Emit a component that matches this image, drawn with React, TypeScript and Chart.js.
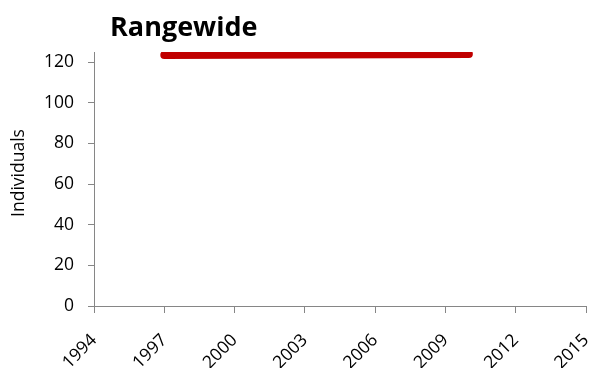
import { useEffect, useRef } from "react";
import { Chart, registerables } from "chart.js";

Chart.register(...registerables);

const chartTitle = "Rangewide";
const yAxisTitle = "Individuals";
const years = [1997, 2010];
const individuals = [123.5, 124];
const xMin = 1994;
const xMax = 2015;
const xStep = 3;
const yMin = 0;
const yMax = 125;
const yTicks = [0, 20, 40, 60, 80, 100, 120];

const FONT = "'Open Sans', 'DejaVu Sans', sans-serif";
const AXIS = "#868686";

const textPlugin = {
  id: "textLabels",
  afterDraw(chart: any) {
    const ctx = chart.ctx;
    ctx.save();
    ctx.font = `bold 27px ${FONT}`;
    ctx.fillStyle = "#000";
    ctx.textAlign = "left";
    ctx.textBaseline = "alphabetic";
    ctx.fillText(chartTitle, 110, 36);
    ctx.restore();

    ctx.save();
    ctx.translate(19, 173);
    ctx.rotate(-Math.PI / 2);
    ctx.font = `17.5px ${FONT}`;
    ctx.fillStyle = "#000";
    ctx.textAlign = "center";
    ctx.textBaseline = "middle";
    ctx.fillText(yAxisTitle, 0, 0);
    ctx.restore();
  },
};

export default function App() {
  const ref = useRef<HTMLCanvasElement | null>(null);
  useEffect(() => {
    if (!ref.current) return;
    const chart = new Chart(ref.current, {
      type: "line",
      data: {
        datasets: [
          {
            data: years.map((y, i) => ({ x: y, y: individuals[i] })),
            borderColor: "#C00000",
            backgroundColor: "#C00000",
            borderWidth: 8,
            borderCapStyle: "round",
            pointRadius: 0,
            tension: 0,
          },
        ],
      },
      options: {
        animation: false,
        responsive: false,
        devicePixelRatio: 1,
        layout: { padding: { top: 52, right: 17, left: 0, bottom: 0 } },
        plugins: { legend: { display: false }, tooltip: { enabled: false }, title: { display: false } },
        scales: {
          x: {
            type: "linear",
            min: xMin,
            max: xMax,
            ticks: {
              stepSize: xStep,
              maxRotation: 45,
              minRotation: 45,
              color: "#000",
              font: { family: FONT, size: 17.5 },
              padding: 17,
              callback: (v: any) => String(v),
            },
            grid: { drawOnChartArea: false, drawTicks: true, tickLength: 7, color: AXIS },
            border: { color: AXIS, width: 1 },
            afterFit: (s: any) => {
              s.height = 62;
              s.paddingLeft = 0;
              s.paddingRight = 0;
            },
          },
          y: {
            min: yMin,
            max: yMax,
            ticks: {
              color: "#000",
              font: { family: FONT, size: 17.5 },
              padding: 14,
            },
            afterBuildTicks: (s: any) => {
              s.ticks = yTicks.map((v) => ({ value: v }));
            },
            grid: { drawOnChartArea: false, drawTicks: true, tickLength: 6, color: AXIS },
            border: { color: AXIS, width: 1 },
            afterFit: (s: any) => {
              s.width = 94;
              s.paddingTop = 0;
              s.paddingBottom = 0;
            },
          },
        },
      },
      plugins: [textPlugin],
    });
    return () => chart.destroy();
  }, []);
  return (
    <div style={{ position: "fixed", left: 0, top: 0, width: 603, height: 368, background: "#fff" }}>
      <canvas ref={ref} width={603} height={368} style={{ display: "block" }} />
    </div>
  );
}
